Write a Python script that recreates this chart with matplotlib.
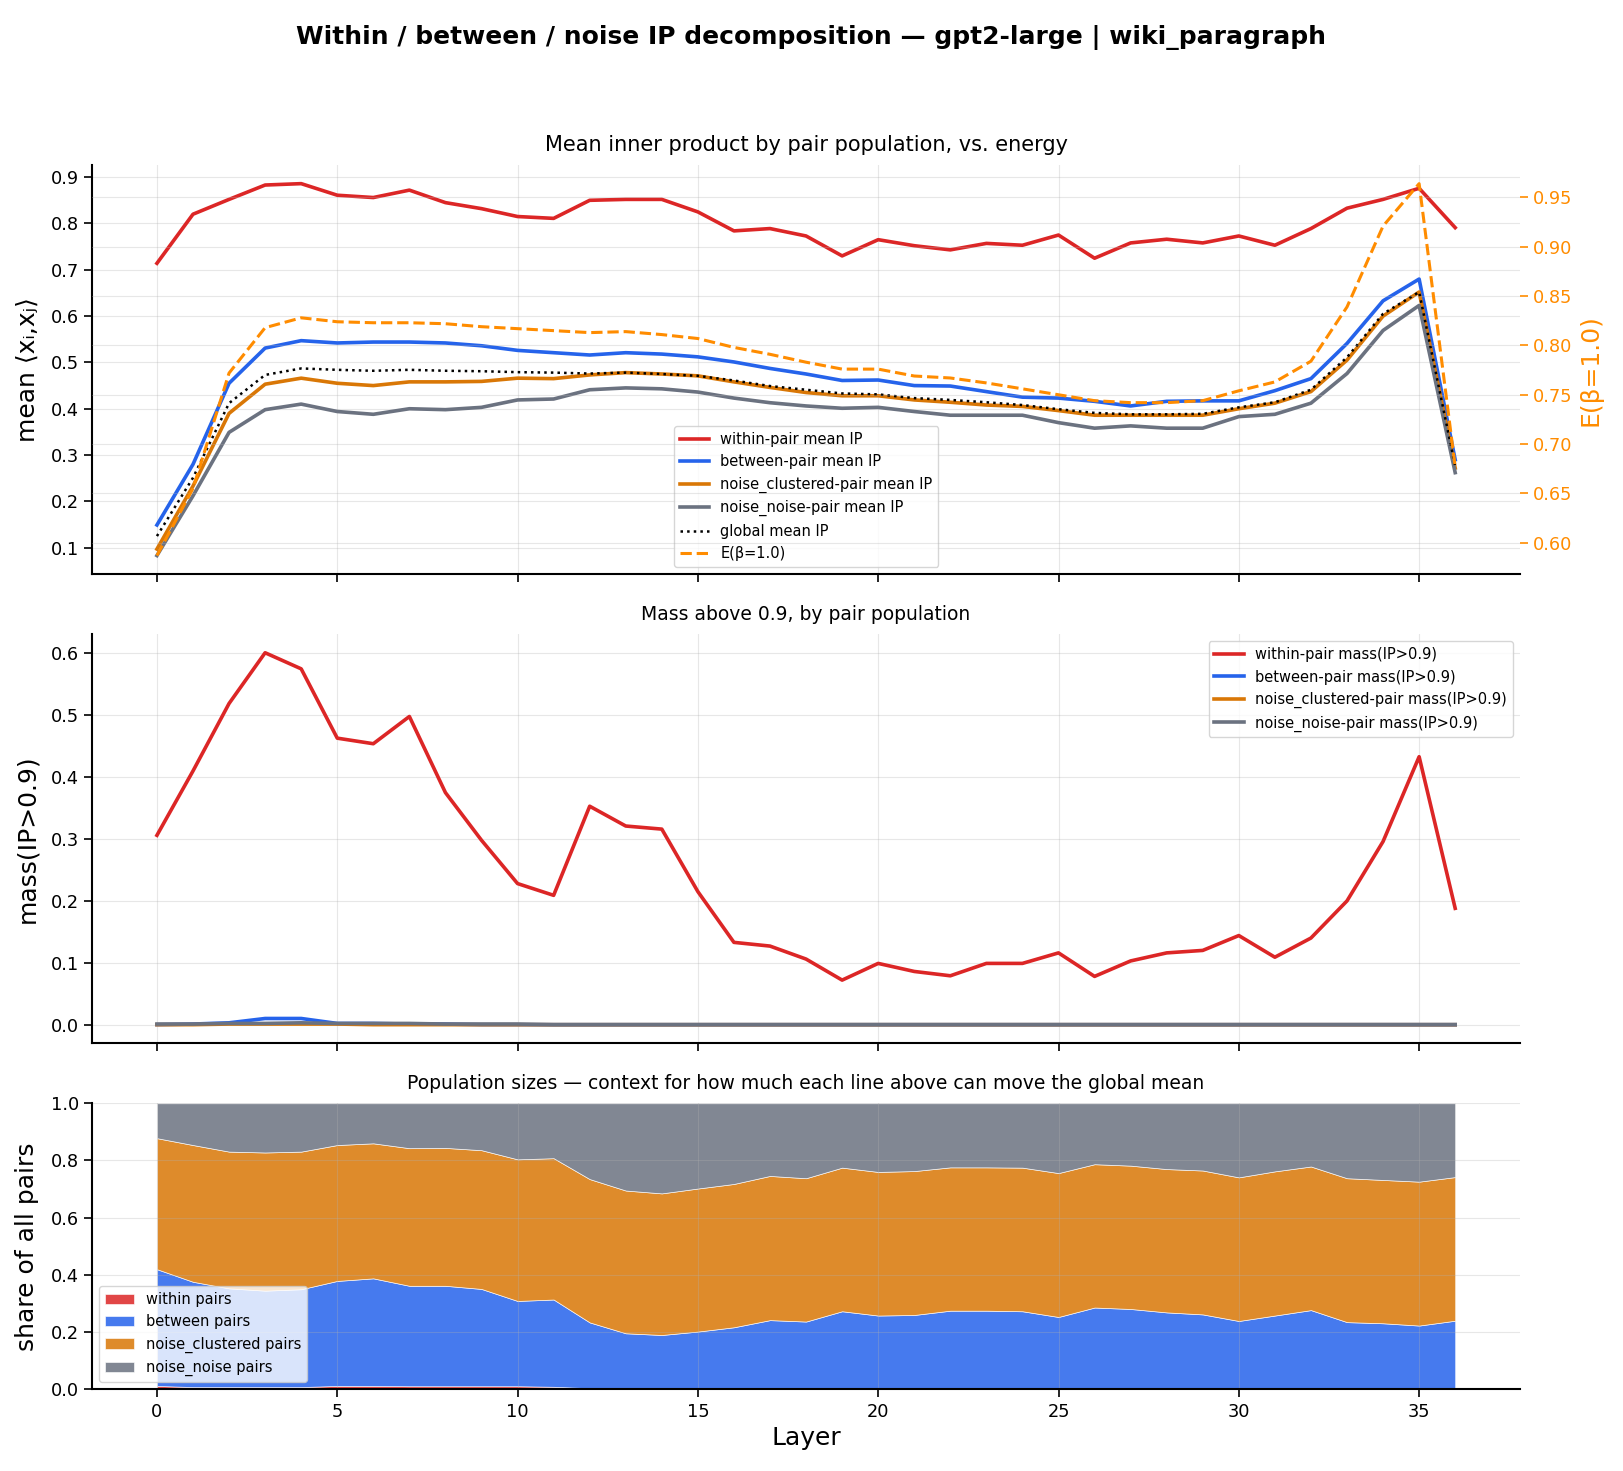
import numpy as np
import matplotlib
matplotlib.use('Agg')
import matplotlib.pyplot as plt

# layer-wise values (gpt2-large, wiki_paragraph)
layers = list(range(37))

within_ip = [0.714, 0.820, 0.852, 0.883, 0.886, 0.861, 0.856, 0.872, 0.845, 0.832, 0.815, 0.811, 0.850,
             0.852, 0.852, 0.825, 0.784, 0.789, 0.773, 0.730, 0.765, 0.752, 0.743, 0.757, 0.753, 0.775,
             0.725, 0.758, 0.766, 0.758, 0.773, 0.753, 0.789, 0.833, 0.852, 0.876, 0.791]
between_ip = [0.149, 0.280, 0.455, 0.531, 0.547, 0.542, 0.544, 0.544, 0.542, 0.536, 0.526, 0.521, 0.516,
              0.521, 0.518, 0.512, 0.501, 0.487, 0.475, 0.461, 0.462, 0.450, 0.449, 0.437, 0.425, 0.423,
              0.416, 0.406, 0.416, 0.417, 0.417, 0.439, 0.465, 0.541, 0.633, 0.680, 0.290]
noise_clustered_ip = [0.097, 0.233, 0.390, 0.453, 0.466, 0.455, 0.450, 0.458, 0.458, 0.459, 0.466, 0.465,
                      0.473, 0.478, 0.475, 0.471, 0.458, 0.446, 0.435, 0.428, 0.428, 0.419, 0.414, 0.408,
                      0.405, 0.396, 0.386, 0.386, 0.386, 0.386, 0.400, 0.412, 0.437, 0.505, 0.600, 0.652, 0.272]
noise_noise_ip = [0.083, 0.212, 0.349, 0.398, 0.410, 0.394, 0.388, 0.400, 0.398, 0.403, 0.419, 0.421, 0.441,
                  0.445, 0.443, 0.436, 0.423, 0.413, 0.406, 0.401, 0.403, 0.394, 0.386, 0.386, 0.386, 0.370,
                  0.358, 0.363, 0.358, 0.358, 0.383, 0.388, 0.412, 0.476, 0.569, 0.623, 0.262]
global_ip = [0.125, 0.251, 0.412, 0.473, 0.487, 0.484, 0.482, 0.484, 0.482, 0.481, 0.479, 0.478, 0.476,
             0.478, 0.475, 0.471, 0.461, 0.449, 0.441, 0.433, 0.431, 0.423, 0.419, 0.414, 0.408, 0.399,
             0.391, 0.388, 0.388, 0.389, 0.403, 0.414, 0.441, 0.511, 0.605, 0.652, 0.276]
energy = [0.587, 0.655, 0.772, 0.818, 0.828, 0.824, 0.823, 0.823, 0.822, 0.819, 0.817, 0.815, 0.813,
          0.814, 0.811, 0.807, 0.798, 0.791, 0.783, 0.776, 0.776, 0.769, 0.767, 0.762, 0.756, 0.750,
          0.744, 0.742, 0.742, 0.744, 0.754, 0.763, 0.784, 0.839, 0.921, 0.964, 0.677]

within_mass = [0.306, 0.410, 0.519, 0.601, 0.575, 0.463, 0.454, 0.498, 0.375, 0.298, 0.228, 0.209, 0.353,
               0.321, 0.316, 0.215, 0.133, 0.127, 0.106, 0.072, 0.099, 0.086, 0.079, 0.099, 0.099, 0.116,
               0.078, 0.103, 0.116, 0.120, 0.144, 0.109, 0.140, 0.200, 0.296, 0.433, 0.188]
between_mass = [0.0, 0.001, 0.003, 0.010, 0.010, 0.002, 0.002, 0.001, 0.001, 0.0, 0.0, 0.0, 0.0,
                0.0, 0.0, 0.0, 0.0, 0.0, 0.0, 0.0, 0.0, 0.0, 0.0, 0.0, 0.0, 0.0,
                0.0, 0.0, 0.0, 0.0, 0.0, 0.0, 0.0, 0.0, 0.0, 0.0, 0.0]
noise_clustered_mass = [0.0, 0.0, 0.001, 0.001, 0.001, 0.001, 0.0, 0.0, 0.0, 0.0, 0.0, 0.0, 0.0,
                        0.0, 0.0, 0.0, 0.0, 0.0, 0.0, 0.0, 0.0, 0.0, 0.0, 0.0, 0.0, 0.0,
                        0.0, 0.0, 0.0, 0.0, 0.0, 0.0, 0.0, 0.0, 0.0, 0.0, 0.0]
noise_noise_mass = [0.001, 0.001, 0.002, 0.002, 0.003, 0.002, 0.002, 0.002, 0.001, 0.001, 0.001, 0.0, 0.0,
                    0.0, 0.0, 0.0, 0.0, 0.0, 0.0, 0.0, 0.0, 0.0, 0.0, 0.0, 0.0, 0.0,
                    0.0, 0.0, 0.0, 0.0, 0.0, 0.0, 0.0, 0.0, 0.0, 0.0, 0.0]

within_share = [0.012, 0.008, 0.008, 0.008, 0.008, 0.012, 0.012, 0.011, 0.011, 0.011, 0.011, 0.009, 0.004,
                0.003, 0.003, 0.003, 0.003, 0.003, 0.003, 0.003, 0.004, 0.003, 0.004, 0.003, 0.003, 0.003,
                0.004, 0.003, 0.003, 0.003, 0.003, 0.004, 0.003, 0.003, 0.003, 0.003, 0.003]
between_share = [0.408, 0.368, 0.345, 0.337, 0.342, 0.367, 0.376, 0.351, 0.351, 0.340, 0.298, 0.305, 0.230,
                 0.193, 0.187, 0.199, 0.214, 0.239, 0.234, 0.270, 0.254, 0.257, 0.271, 0.272, 0.270, 0.250,
                 0.282, 0.278, 0.266, 0.259, 0.236, 0.254, 0.274, 0.232, 0.228, 0.220, 0.237]
noise_clustered_share = [0.458, 0.478, 0.478, 0.483, 0.481, 0.475, 0.472, 0.481, 0.482, 0.485, 0.495, 0.494,
                         0.501, 0.499, 0.495, 0.500, 0.501, 0.504, 0.501, 0.502, 0.502, 0.503, 0.501, 0.501,
                         0.502, 0.503, 0.501, 0.501, 0.501, 0.503, 0.502, 0.504, 0.502, 0.503, 0.501, 0.503, 0.502]
noise_noise_share = [0.122, 0.146, 0.169, 0.172, 0.169, 0.146, 0.140, 0.157, 0.156, 0.164, 0.196, 0.192, 0.265,
                     0.305, 0.315, 0.298, 0.282, 0.254, 0.262, 0.225, 0.240, 0.237, 0.224, 0.224, 0.225, 0.244,
                     0.213, 0.218, 0.230, 0.235, 0.259, 0.238, 0.221, 0.262, 0.268, 0.274, 0.258]

pop_names = ['within', 'between', 'noise_clustered', 'noise_noise']
pop_colors = ['#dc2626', '#2563eb', '#d97706', '#6b7280']
energy_color = '#ff8c00'

TICK_FS = 12.8
LABEL_FS = 18
TITLE_FS = 13.5
LEGEND_FS = 10.5


def style_axis(ax):
    ax.spines['top'].set_visible(False)
    ax.spines['right'].set_visible(False)
    ax.grid(True, alpha=0.3)
    ax.tick_params(labelsize=TICK_FS, length=6, width=1.2)
    for s in ('left', 'bottom'):
        ax.spines[s].set_linewidth(1.5)


fig, axes = plt.subplots(3, 1, figsize=(16.23, 14.71), dpi=100, sharex=True,
                         gridspec_kw={'height_ratios': [1.43, 1.43, 1.0]})
fig.subplots_adjust(left=0.0567, right=0.9366, top=0.8878, bottom=0.0555, hspace=0.163)

# 1) mean inner product by population, energy on twin axis
ax = axes[0]
ip_series = [within_ip, between_ip, noise_clustered_ip, noise_noise_ip]
for name, vals, c in zip(pop_names, ip_series, pop_colors):
    ax.plot(layers, vals, color=c, lw=2.6, label=f'{name}-pair mean IP')
ax.plot(layers, global_ip, color='black', ls=':', lw=1.8, label='global mean IP')
ax.set_ylabel('mean ⟨xᵢ,xⱼ⟩', fontsize=LABEL_FS, labelpad=8)
ax.set_title('Mean inner product by pair population, vs. energy', fontsize=15, pad=10)
style_axis(ax)

ax2 = ax.twinx()
ax2.plot(layers, energy, color=energy_color, ls='--', lw=2.2, label='E(β=1.0)')
ax2.set_ylabel('E(β=1.0)', color=energy_color, fontsize=LABEL_FS)
ax2.tick_params(axis='y', colors=energy_color, labelsize=TICK_FS, length=6, width=1.2)
for s in ax2.spines.values():
    s.set_visible(False)
ax2.grid(True, alpha=0.3)

h1, l1 = ax.get_legend_handles_labels()
h2, l2 = ax2.get_legend_handles_labels()
ax.legend(h1 + h2, l1 + l2, loc='lower center', fontsize=LEGEND_FS)

# 2) mass above 0.9
ax = axes[1]
mass_series = [within_mass, between_mass, noise_clustered_mass, noise_noise_mass]
for name, vals, c in zip(pop_names, mass_series, pop_colors):
    ax.plot(layers, vals, color=c, lw=2.6, label=f'{name}-pair mass(IP>0.9)')
ax.set_ylabel('mass(IP>0.9)', fontsize=LABEL_FS, labelpad=8)
ax.set_title('Mass above 0.9, by pair population', fontsize=TITLE_FS, pad=10)
ax.legend(loc='upper right', fontsize=LEGEND_FS)
style_axis(ax)

# 3) population sizes
ax = axes[2]
shares = [within_share, between_share, noise_clustered_share, noise_noise_share]
ax.stackplot(layers, *shares, colors=pop_colors, alpha=0.85,
             labels=[f'{n} pairs' for n in pop_names], edgecolor='white', linewidth=0.5)
ax.set_ylim(0, 1)
ax.set_ylabel('share of all pairs', fontsize=LABEL_FS, labelpad=8)
ax.set_xlabel('Layer', fontsize=LABEL_FS)
ax.set_title('Population sizes — context for how much each line above can move the global mean',
             fontsize=TITLE_FS, pad=10)
ax.legend(loc='lower left', fontsize=LEGEND_FS)
style_axis(ax)

fig.suptitle('Within / between / noise IP decomposition — gpt2-large | wiki_paragraph',
             fontsize=18, fontweight='bold', y=0.983)

fig.savefig('out.png', dpi=100)
